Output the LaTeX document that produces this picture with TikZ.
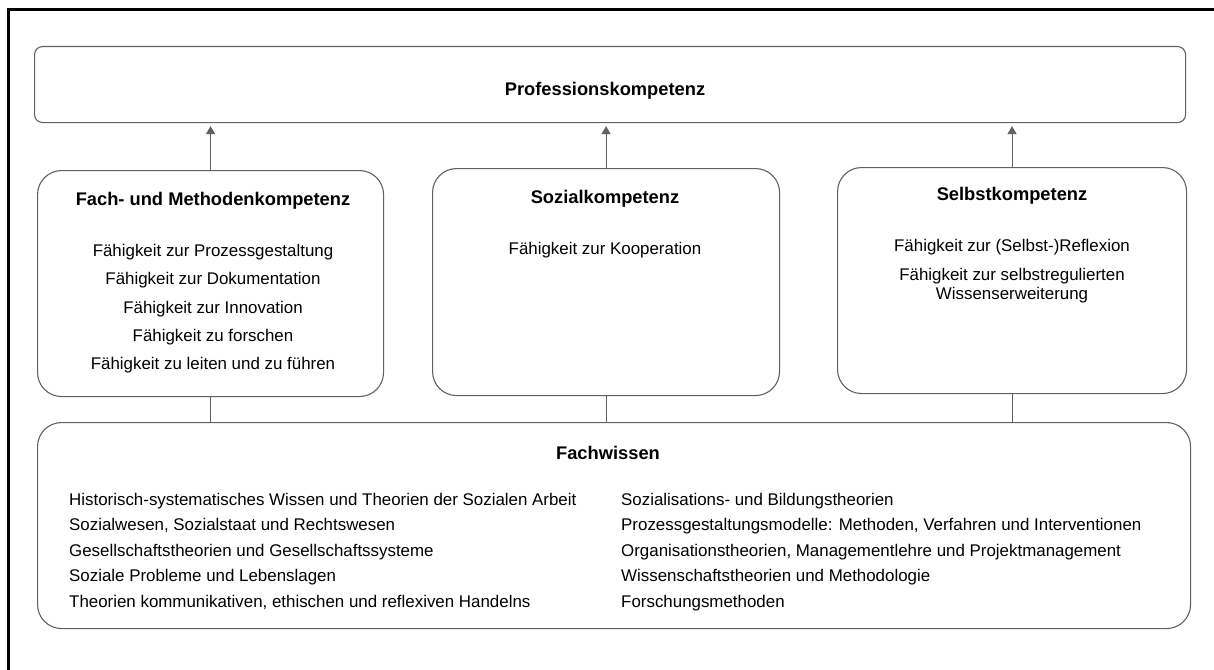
\documentclass[tikz,border=0pt]{standalone}
\usepackage{fontspec}
\setmainfont{Liberation Sans}
\usetikzlibrary{arrows.meta}
\tikzset{
  boxline/.style={draw=black!62, line width=1.1pt},
  smallbox/.style={boxline, rounded corners=8pt, inner sep=0pt, anchor=north west},
  bigbox/.style={boxline, rounded corners=24pt, inner sep=0pt, anchor=north west},
  titletext/.style={font=\fontsize{18.3}{22}\selectfont\bfseries, anchor=base, inner sep=0pt},
  itemtext/.style={font=\fontsize{16.9}{20}\selectfont, anchor=base, inner sep=0pt},
  itemleft/.style={font=\fontsize{16.9}{20}\selectfont, anchor=base west, inner sep=0pt},
  uparrow/.style={draw=black!62, line width=1.1pt, -{Triangle[width=9pt,length=8pt]}, shorten >=3pt},
  link/.style={draw=black!62, line width=1.1pt}
}
\begin{document}
\begin{tikzpicture}[x=1pt,y=-1pt]
\useasboundingbox (0,0) rectangle (1214,669);
% outer frame (cut off at right and bottom)
\draw[line width=3pt, line cap=rect] (8,669) -- (8,10) -- (1214,10);

% top box
\node[smallbox, minimum width=1151pt, minimum height=76pt] (top) at (34,46) {};
\node[titletext] (toptitle) at (605,95) {Professionskompetenz};

% middle boxes
\node[bigbox, minimum width=346pt, minimum height=226pt] (fm) at (37,170) {};
\node[bigbox, minimum width=347pt, minimum height=227pt] (soz) at (432,168) {};
\node[bigbox, minimum width=349pt, minimum height=226pt] (selbst) at (837,167) {};

% bottom box
\node[bigbox, minimum width=1153pt, minimum height=206pt] (fw) at (37,422) {};

% connectors
\draw[uparrow] (fm.north) -- (fm.north |- top.south);
\draw[uparrow] (soz.north) -- (soz.north |- top.south);
\draw[uparrow] (selbst.north) -- (selbst.north |- top.south);
\draw[link] (fm.south) -- (fm.south |- fw.north);
\draw[link] (soz.south) -- (soz.south |- fw.north);
\draw[link] (selbst.south) -- (selbst.south |- fw.north);

% Fach- und Methodenkompetenz
\node[titletext] (fmtitle) at (213,205) {Fach- und Methodenkompetenz};
\node[itemtext] (fm1) at (213,256) {Fähigkeit zur Prozessgestaltung};
\node[itemtext] (fm2) at (213,284) {Fähigkeit zur Dokumentation};
\node[itemtext] (fm3) at (213,313) {Fähigkeit zur Innovation};
\node[itemtext] (fm4) at (213,341) {Fähigkeit zu forschen};
\node[itemtext] (fm5) at (213,369) {Fähigkeit zu leiten und zu führen};

% Sozialkompetenz
\node[titletext] (soztitle) at (605,203) {Sozialkompetenz};
\node[itemtext] (soz1) at (605,254) {Fähigkeit zur Kooperation};

% Selbstkompetenz
\node[titletext] (selbsttitle) at (1012,200) {Selbstkompetenz};
\node[itemtext] (selbst1) at (1012,251) {Fähigkeit zur (Selbst-)Reflexion};
\node[itemtext] (selbst2) at (1012,280) {Fähigkeit zur selbstregulierten};
\node[itemtext] (selbst3) at (1012,299) {Wissenserweiterung};

% Fachwissen
\node[titletext] (fwtitle) at (608,459) {Fachwissen};
\node[itemleft] (fwl1) at (69,505) {Historisch-systematisches Wissen und Theorien der Sozialen Arbeit};
\node[itemleft] (fwl2) at (69,530) {Sozialwesen, Sozialstaat und Rechtswesen};
\node[itemleft] (fwl3) at (69,556) {Gesellschaftstheorien und Gesellschaftssysteme};
\node[itemleft] (fwl4) at (69,581) {Soziale Probleme und Lebenslagen};
\node[itemleft] (fwl5) at (69,607) {Theorien kommunikativen, ethischen und reflexiven Handelns};
\node[itemleft] (fwr1) at (621,505) {Sozialisations- und Bildungstheorien};
\node[itemleft] (fwr2) at (621,530) {Prozessgestaltungsmodelle: Methoden, Verfahren und Interventionen};
\node[itemleft] (fwr3) at (621,556) {Organisationstheorien, Managementlehre und Projektmanagement};
\node[itemleft] (fwr4) at (621,581) {Wissenschaftstheorien und Methodologie};
\node[itemleft] (fwr5) at (621,607) {Forschungsmethoden};
\end{tikzpicture}
\end{document}
